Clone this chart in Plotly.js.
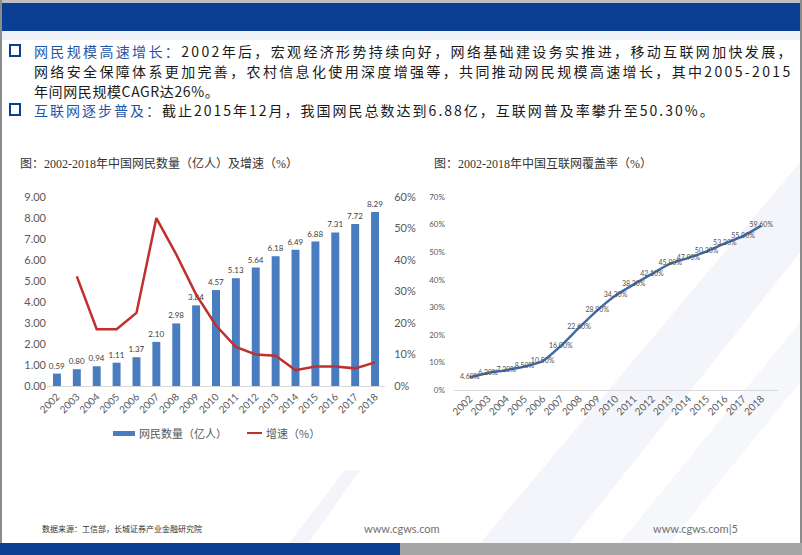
<!DOCTYPE html>
<html><head><meta charset="utf-8">
<script src="https://cdn.plot.ly/plotly-3.0.1.min.js"></script>
<style>
html,body{margin:0;padding:0;background:#fff}#c{width:802px;height:555px}
.annotation[data-index="0"] text{letter-spacing:2.35px}
.annotation[data-index="1"] text{letter-spacing:2.35px}
.annotation[data-index="2"] text{letter-spacing:0.6px}
.annotation[data-index="3"] text{letter-spacing:2.0px}
</style>
</head><body><div id="c"></div>
<script>
// ---- data ----
const years = ['2002','2003','2004','2005','2006','2007','2008','2009','2010','2011','2012','2013','2014','2015','2016','2017','2018'];
const netizens = [0.59,0.80,0.94,1.11,1.37,2.10,2.98,3.84,4.57,5.13,5.64,6.18,6.49,6.88,7.31,7.72,8.29];
const growth = [null,34.8,18.0,18.0,23.2,53.3,41.8,29.0,19.2,12.4,10.0,9.6,5.0,6.2,6.2,5.6,7.5];
const penetration = [4.6,6.2,7.2,8.5,10.5,16.0,22.6,28.9,34.3,38.3,42.1,45.8,47.9,50.3,53.2,55.8,59.6];
const leftYTicks = [0,1,2,3,4,5,6,7,8,9];
const rightYTicks = [0,10,20,30,40,50,60];
const penYTicks = [0,10,20,30,40,50,60,70];
const seriesNames = ['网民数量（亿人）','增速（%）'];

const W = 802, H = 555;
const px = (x) => x / W;
const py = (y) => 1 - y / H;

const CJK = '"Noto Sans CJK SC", sans-serif';
const SERIF = '"Liberation Serif", "Noto Sans CJK SC", serif';
const TICK = 'Lato, "Open Sans", sans-serif';
const gray = '#595959';
const BLUE_BAR = '#4a7cc0', RED = '#c0302e';

const traces = [
  {type:'bar', x:years, y:netizens, name:seriesNames[0], xaxis:'x', yaxis:'y',
   marker:{color:BLUE_BAR}, text:netizens.map(v=>v.toFixed(2)), textposition:'outside', constraintext:'none',
   textfont:{size:8, color:'#404040', family:TICK}, cliponaxis:false, hoverinfo:'skip'},
  {type:'scatter', mode:'lines', x:years, y:growth, name:seriesNames[1], xaxis:'x', yaxis:'y2',
   line:{color:RED, width:2.5}, connectgaps:false},
  {type:'scatter', mode:'lines+text', x:years, y:penetration, xaxis:'x3', yaxis:'y3',
   line:{color:'#3f6ba8', width:2.5, shape:'spline', smoothing:0.6},
   text:penetration.map(v=>v.toFixed(2)+'%'), textposition:'middle center',
   textfont:{size:7, color:'#505050', family:TICK}, cliponaxis:false}
];

const headerLines = [
  ['<span style="color:#1f56a8">网民规模高速增长：</span>2002年后，宏观经济形势持续向好，网络基础建设务实推进，移动互联网加快发展，', 51],
  ['网络安全保障体系更加完善，农村信息化使用深度增强等，共同推动网民规模高速增长，其中2005-2015', 71],
  ['年间网民规模CAGR达26%。', 90.5],
  ['<span style="color:#1f56a8">互联网逐步普及：</span>截止2015年12月，我国网民总数达到6.88亿，互联网普及率攀升至50.30%。', 110]
];

const ann = headerLines.map(([t,y]) => ({xref:'paper', yref:'paper', x:px(33), y:py(y), xanchor:'left', yanchor:'middle',
   align:'left', showarrow:false, borderpad:0, text:t, font:{family:CJK, size:14, color:'#1a1a1a'}}));
ann.push(
  {xref:'paper', yref:'paper', x:px(18), y:py(163), xanchor:'left', yanchor:'middle', showarrow:false,
   text:'图：2002-2018年中国网民数量（亿人）及增速（%）', font:{family:SERIF, size:12, color:'#333'}},
  {xref:'paper', yref:'paper', x:px(432), y:py(163), xanchor:'left', yanchor:'middle', showarrow:false,
   text:'图：2002-2018年中国互联网覆盖率（%）', font:{family:SERIF, size:12, color:'#333'}},
  // custom legend labels
  {xref:'paper', yref:'paper', x:px(137), y:py(433), xanchor:'left', yanchor:'middle', showarrow:false,
   text:seriesNames[0], font:{family:CJK, size:11, color:gray}},
  {xref:'paper', yref:'paper', x:px(264), y:py(433), xanchor:'left', yanchor:'middle', showarrow:false,
   text:seriesNames[1], font:{family:CJK, size:11, color:gray}},
  {xref:'paper', yref:'paper', x:px(40), y:py(528), xanchor:'left', yanchor:'middle', showarrow:false,
   text:'数据来源：工信部，长城证券产业金融研究院', font:{family:CJK, size:8, color:'#333'}},
  {xref:'paper', yref:'paper', x:px(402), y:py(528), xanchor:'center', yanchor:'middle', showarrow:false,
   text:'www.cgws.com', font:{family:TICK, size:11, color:'#707070'}},
  {xref:'paper', yref:'paper', x:px(740), y:py(528), xanchor:'right', yanchor:'middle', showarrow:false,
   text:'www.cgws.com|5', font:{family:TICK, size:11, color:'#707070'}}
);

function rectPx(x0,y0,x1,y1,fill,line) {
  return {type:'rect', xref:'paper', yref:'paper', x0:px(x0), x1:px(x1), y0:py(y1), y1:py(y0),
    fillcolor:fill, line:line||{width:0}, layer:'below'};
}
function pathPx(pts, fill) {
  let d = pts.map((p,i)=>(i?'L':'M')+px(p[0]).toFixed(4)+','+py(p[1]).toFixed(4)).join(' ')+' Z';
  return {type:'path', xref:'paper', yref:'paper', path:d, fillcolor:fill, line:{width:0}, layer:'below'};
}
const shapes = [
  // watermark stripes
  pathPx([[470,555],[560,555],[802,250],[802,160]], '#f3f5fa'),
  pathPx([[610,555],[660,555],[802,380],[802,320]], '#f5f7fb'),
  pathPx([[280,555],[300,555],[360,470],[345,470]], '#f3f5fa'),
  // header
  rectPx(0,30,802,40,'#eef2f8'),
  rectPx(0,0,802,3,'#bfbfbf'),
  rectPx(0,3,802,31,'#0a3f94'),
  // bullets
  rectPx(10,45,20,56,'rgba(0,0,0,0)',{color:'#0a3f94', width:2}),
  rectPx(10,104,20,115,'rgba(0,0,0,0)',{color:'#0a3f94', width:2}),
  // custom legend keys
  rectPx(113,431,135,436,BLUE_BAR),
  {type:'line', xref:'paper', yref:'paper', x0:px(247), x1:px(262), y0:py(433), y1:py(433), line:{color:RED, width:2}},
  // frame
  rectPx(0,0,2,545,'#8c8c8c'),
  rectPx(800,0,802,545,'#8c8c8c'),
  // bottom bar
  rectPx(0,543,400,555,'#0a3f94'),
  rectPx(400,543,802,555,'#a6a6a6')
];

const axFont = {family:TICK, size:10, color:gray};
const layout = {
  width:W, height:H, margin:{l:0,r:0,t:0,b:0}, paper_bgcolor:'#fff', plot_bgcolor:'rgba(0,0,0,0)',
  showlegend:false,
  bargap:0.6,
  xaxis:{domain:[px(47),px(385)], anchor:'y', type:'category', tickangle:-45, tickfont:axFont,
    showgrid:false, showline:true, linecolor:'#d9d9d9', ticks:'', zeroline:false},
  yaxis:{domain:[py(386),py(197)], anchor:'x', range:[0,9], tickvals:leftYTicks,
    ticktext:leftYTicks.map(v=>v.toFixed(2)),
    tickfont:{family:TICK, size:11, color:gray}, showgrid:false, zeroline:false, ticks:''},
  yaxis2:{overlaying:'y', side:'right', anchor:'x', range:[0,60], tickvals:rightYTicks,
    ticktext:rightYTicks.map(v=>v+'%'),
    tickfont:{family:TICK, size:11, color:gray}, showgrid:false, zeroline:false,
    ticks:'outside', ticklen:6, tickcolor:'rgba(0,0,0,0)'},
  xaxis3:{domain:[px(453.5),px(777.5)], anchor:'y3', type:'category', tickangle:-45, tickfont:axFont,
    showgrid:false, showline:false, ticks:'', zeroline:false},
  yaxis3:{domain:[py(390),py(197)], anchor:'x3', range:[0,70], tickvals:penYTicks,
    ticktext:penYTicks.map(v=>v+'%'),
    tickfont:{family:TICK, size:8, color:gray}, showgrid:false, zeroline:true, zerolinecolor:'#d9d9d9',
    zerolinewidth:1, ticks:'outside', ticklen:6, tickcolor:'rgba(0,0,0,0)'},
  annotations:ann, shapes:shapes
};
Plotly.newPlot('c', traces, layout, {staticPlot:true, displayModeBar:false});
</script></body></html>
